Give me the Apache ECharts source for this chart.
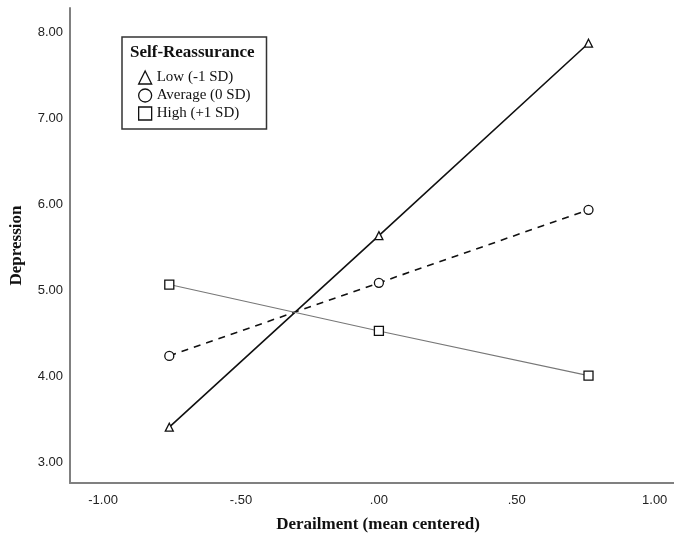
<!DOCTYPE html>
<html><head><meta charset="utf-8">
<script src="https://cdn.jsdelivr.net/npm/echarts@6/dist/echarts.min.js"></script>
<style>html,body{margin:0;padding:0;background:#fff}#c{width:674px;height:540px}</style>
</head><body><div id="c"></div>
<script>
const xValues = [-0.76, 0.00, 0.76];
const lowValues = [3.41, 5.64, 7.88];
const avgValues = [4.24, 5.09, 5.94];
const highValues = [5.07, 4.53, 4.01];
const seriesNames = ['Low (-1 SD)', 'Average (0 SD)', 'High (+1 SD)'];
const xTicks = [-1, -0.5, 0, 0.5, 1];
const yTicks = [3, 4, 5, 6, 7, 8];

function fmt(v) {
  let s = Math.abs(v).toFixed(2);
  if (s.startsWith('0')) s = s.slice(1);
  return (v < 0 ? '-' : '') + s;
}
const pairs = arr => xValues.map((x, i) => [x, arr[i]]);

const chart = echarts.init(document.getElementById('c'), null, {renderer: 'canvas'});
chart.setOption({
  animation: false,
  backgroundColor: '#fff',
  grid: {left: 70, right: 0, top: 8, bottom: 57, containLabel: false, outerBoundsMode: 'none'},
  xAxis: {
    type: 'value', min: -1.12, max: 1.07,
    name: 'Derailment (mean centered)', nameLocation: 'middle', nameGap: 33,
    nameTextStyle: {fontFamily: 'Liberation Serif', fontWeight: 'bold', fontSize: 17, color: '#111', padding: [0, 0, 0, 12]},
    axisLine: {show: true, onZero: false, lineStyle: {color: '#808080', width: 2}},
    axisTick: {show: false},
    splitLine: {show: false},
    axisLabel: {customValues: xTicks, formatter: fmt, margin: 11, fontFamily: 'Liberation Sans', fontSize: 13, color: '#222'}
  },
  yAxis: {
    type: 'value', min: 2.76, max: 8.29,
    name: 'Depression', nameLocation: 'middle', nameGap: 45, nameRotate: 90,
    nameTextStyle: {fontFamily: 'Liberation Serif', fontWeight: 'bold', fontSize: 17, color: '#111'},
    axisLine: {show: true, onZero: false, lineStyle: {color: '#808080', width: 2}},
    axisTick: {show: false},
    splitLine: {show: false},
    axisLabel: {customValues: yTicks, formatter: fmt, margin: 7, fontFamily: 'Liberation Sans', fontSize: 13, color: '#222'}
  },
  legend: {
    left: 122, top: 37, orient: 'vertical',
    padding: [33, 16, 8, 16], itemGap: 3, itemWidth: 13, itemHeight: 13,
    borderColor: '#333', borderWidth: 1.5, backgroundColor: '#fff',
    textStyle: {fontFamily: 'Liberation Serif', fontSize: 15, color: '#111'},
    data: [
      {name: seriesNames[0], icon: 'triangle', itemStyle: {color: '#fff', borderColor: '#111', borderWidth: 1.3}},
      {name: seriesNames[1], icon: 'circle', itemStyle: {color: '#fff', borderColor: '#111', borderWidth: 1.3}},
      {name: seriesNames[2], icon: 'rect', itemStyle: {color: '#fff', borderColor: '#111', borderWidth: 1.3}}
    ]
  },
  graphic: [{
    type: 'text', left: 130, top: 44, z: 100,
    style: {text: 'Self-Reassurance', font: 'bold 17px "Liberation Serif"', fill: '#111'}
  }],
  series: [
    {name: seriesNames[0], type: 'line', data: pairs(lowValues), symbol: 'triangle', symbolSize: 8,
     lineStyle: {color: '#111', width: 1.6}, itemStyle: {color: '#fff', borderColor: '#111', borderWidth: 1.3}},
    {name: seriesNames[1], type: 'line', data: pairs(avgValues), symbol: 'circle', symbolSize: 9,
     lineStyle: {color: '#111', width: 1.6, type: [7, 6]}, itemStyle: {color: '#fff', borderColor: '#111', borderWidth: 1.3}},
    {name: seriesNames[2], type: 'line', data: pairs(highValues), symbol: 'rect', symbolSize: 9,
     lineStyle: {color: '#777', width: 1.1}, itemStyle: {color: '#fff', borderColor: '#111', borderWidth: 1.3}}
  ]
});
</script></body></html>
